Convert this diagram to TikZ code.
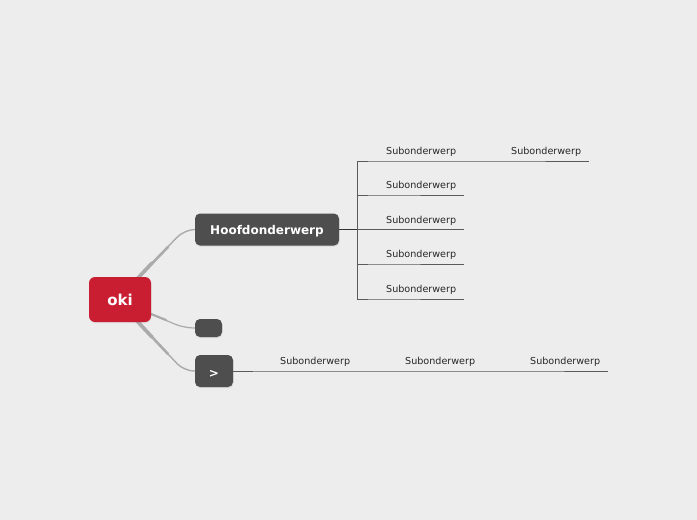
\documentclass[tikz,border=0pt]{standalone}
\usepackage{fontspec}
\setmainfont{DejaVu Sans}
\usetikzlibrary{backgrounds,shadows}
\definecolor{canvas}{HTML}{EDEDED}
\definecolor{rootred}{HTML}{C91D32}
\definecolor{topicgray}{HTML}{4E4E4E}
\definecolor{branchgray}{HTML}{ABABAB}
\definecolor{subline}{HTML}{5A5A5A}

\begin{document}
\begin{tikzpicture}[
  x=1pt, y=-1pt,
  rootbox/.style={rectangle,rounded corners=6pt,fill=rootred,text=white,font=\fontsize{15}{17}\selectfont\bfseries,
    minimum width=62pt,minimum height=45pt,inner sep=0pt,drop shadow={opacity=0.15,shadow xshift=0.5pt,shadow yshift=-1pt}},
  topic/.style={rectangle,rounded corners=5pt,fill=topicgray,text=white,font=\fontsize{12}{14}\selectfont\bfseries,
    inner sep=0pt,text depth=0pt,drop shadow={opacity=0.18,shadow xshift=0.5pt,shadow yshift=-1.2pt}},
  sub/.style={anchor=south west,inner xsep=8pt,inner ysep=4pt,text=black!85,font=\fontsize{9.6}{11}\selectfont},
  branch/.style={draw=branchgray,line width=1.4pt,rounded corners=10pt},
  taper/.style={draw=branchgray,line cap=round},
  subedge/.style={draw=subline,line width=0.8pt}
]
  \useasboundingbox (0,0) rectangle (697,520);

  \node[rootbox] (oki) at (120,299.5) {oki};
  \node[topic,minimum width=144pt,minimum height=32pt] (hoofd) at (267,229.5) {Hoofdonderwerp};
  \node[topic,minimum width=27pt,minimum height=18pt] (leeg) at (208.5,328) {};
  \node[topic,minimum width=38pt,minimum height=32pt,text height=12pt] (pijl) at (214,371) {>};

  % subonderwerpen van Hoofdonderwerp
  \coordinate (hub) at (357,229.5);
  \node[sub] (s1) at (378,161) {Subonderwerp};
  \node[sub] (s1a) at (503,161) {Subonderwerp};
  \node[sub] (s2) at (378,195) {Subonderwerp};
  \node[sub] (s3) at (378,229.5) {Subonderwerp};
  \node[sub] (s4) at (378,264) {Subonderwerp};
  \node[sub] (s5) at (378,299) {Subonderwerp};

  % subonderwerpen van >
  \node[sub] (p1) at (272,371) {Subonderwerp};
  \node[sub] (p2) at (397,371) {Subonderwerp};
  \node[sub] (p3) at (522,371) {Subonderwerp};

  \begin{scope}[on background layer]
    \fill[canvas] (0,0) rectangle (697,520);
    \draw[branch] (oki.center) -- (137,279) -- (184,230) -- (hoofd.west);
    \draw[taper,line width=2.6pt] (oki.center) -- (137,279) -- (168,247);
    \draw[taper,line width=3.6pt] (oki.center) -- (137,279) -- (152,263);
    \draw[branch,line width=1.2pt] (oki.center) -- (151,314) -- (184,328) -- (leeg.west);
    \draw[taper,line width=2.2pt] (oki.center) -- (151,314) -- (166,320);
    \draw[branch] (oki.center) -- (137,321) -- (184,371) -- (pijl.west);
    \draw[taper,line width=2.6pt] (oki.center) -- (137,321) -- (168,354);
    \draw[taper,line width=3.6pt] (oki.center) -- (137,321) -- (152,337);
  \end{scope}

  \draw[draw=black!80,line width=1.5pt] (hoofd.east) -- (hub);
  \draw[subedge] (hub) |- (s1.south west) -- (s1.south east) -- (s1a.south west) -- (s1a.south east);
  \draw[subedge] (hub) |- (s2.south west) -- (s2.south east);
  \draw[subedge] (hub) -- (s3.south west) -- (s3.south east);
  \draw[subedge] (hub) |- (s4.south west) -- (s4.south east);
  \draw[subedge] (hub) |- (s5.south west) -- (s5.south east);

  \draw[subedge] (pijl.east) -- (p1.south west) -- (p1.south east) -- (p2.south west) -- (p2.south east)
    -- (p3.south west) -- (p3.south east);
\end{tikzpicture}
\end{document}
